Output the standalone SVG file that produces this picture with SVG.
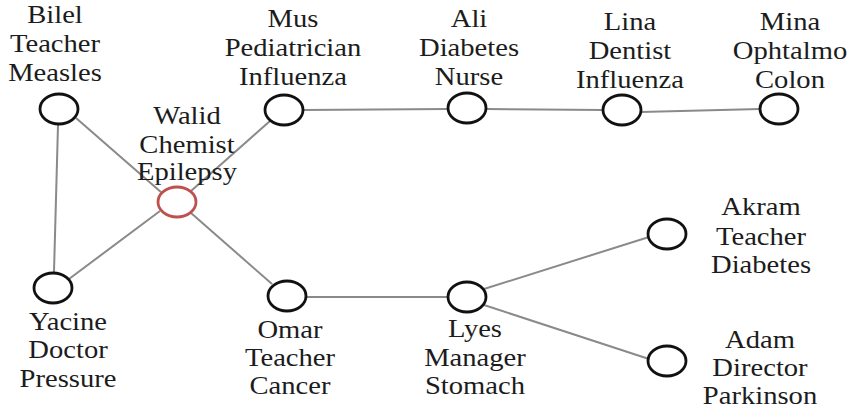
<svg xmlns="http://www.w3.org/2000/svg" width="854" height="413" viewBox="0 0 854 413">
  <style>
    .edge { stroke: #8a8a8a; stroke-width: 2; fill: none; }
    .node { fill: #ffffff; stroke: #111111; stroke-width: 2.8; }
    .node.hl { stroke: #c0504d; }
    text.lbl { font-family: "Liberation Serif", "DejaVu Serif", serif; font-size: 26px; fill: #1c1c1c; text-anchor: middle; }
  </style>
  <rect width="854" height="413" fill="#ffffff"/>

  <!-- connectors -->
  <g id="edges">
    <line class="edge" x1="58" y1="125" x2="54" y2="272"/>
    <line class="edge" x1="76" y1="118" x2="162" y2="193"/>
    <line class="edge" x1="69" y1="279" x2="160" y2="211"/>
    <line class="edge" x1="191" y1="191" x2="270" y2="121"/>
    <line class="edge" x1="191" y1="213" x2="272" y2="284"/>
    <line class="edge" x1="303" y1="110" x2="448" y2="109"/>
    <line class="edge" x1="486" y1="109" x2="603" y2="110"/>
    <line class="edge" x1="641" y1="112" x2="760" y2="109"/>
    <line class="edge" x1="306" y1="297" x2="448" y2="297"/>
    <line class="edge" x1="484" y1="289" x2="649" y2="237"/>
    <line class="edge" x1="484" y1="305" x2="649" y2="359"/>
  </g>

  <g id="bilel">
    <ellipse class="node" cx="59" cy="109" rx="19" ry="15"/>
    <text class="lbl" font-family="Liberation Serif, serif" transform="translate(55 0) scale(1.1 1)"><tspan x="0" y="23">Bilel</tspan><tspan x="0" y="52">Teacher</tspan><tspan x="0" y="81">Measles</tspan></text>
  </g>

  <g id="walid">
    <ellipse class="node hl" cx="177" cy="202" rx="19" ry="15"/>
    <text class="lbl" transform="translate(187 0) scale(1.1 1)"><tspan x="0" y="124">Walid</tspan><tspan x="0" y="153">Chemist</tspan><tspan x="0" y="180">Epilepsy</tspan></text>
  </g>

  <g id="yacine">
    <ellipse class="node" cx="53" cy="288" rx="19" ry="15"/>
    <text class="lbl" transform="translate(68 0) scale(1.1 1)"><tspan x="0" y="330">Yacine</tspan><tspan x="0" y="358">Doctor</tspan><tspan x="0" y="387">Pressure</tspan></text>
  </g>

  <g id="mus">
    <ellipse class="node" cx="284" cy="110" rx="19" ry="15"/>
    <text class="lbl" transform="translate(293 0) scale(1.1 1)"><tspan x="0" y="27">Mus</tspan><tspan x="0" y="56">Pediatrician</tspan><tspan x="0" y="85">Influenza</tspan></text>
  </g>

  <g id="ali">
    <ellipse class="node" cx="467" cy="108" rx="19" ry="15"/>
    <text class="lbl" transform="translate(469 0) scale(1.1 1)"><tspan x="0" y="27">Ali</tspan><tspan x="0" y="56">Diabetes</tspan><tspan x="0" y="85">Nurse</tspan></text>
  </g>

  <g id="lina">
    <ellipse class="node" cx="622" cy="110" rx="19" ry="15"/>
    <text class="lbl" transform="translate(630 0) scale(1.1 1)"><tspan x="0" y="30">Lina</tspan><tspan x="0" y="59">Dentist</tspan><tspan x="0" y="88">Influenza</tspan></text>
  </g>

  <g id="mina">
    <ellipse class="node" cx="779" cy="109" rx="19" ry="15"/>
    <text class="lbl" transform="translate(790 0) scale(1.1 1)"><tspan x="0" y="30">Mina</tspan><tspan x="0" y="59">Ophtalmo</tspan><tspan x="0" y="88">Colon</tspan></text>
  </g>

  <g id="omar">
    <ellipse class="node" cx="287" cy="296" rx="19" ry="15"/>
    <text class="lbl" transform="translate(290 0) scale(1.1 1)"><tspan x="0" y="338">Omar</tspan><tspan x="0" y="366">Teacher</tspan><tspan x="0" y="394">Cancer</tspan></text>
  </g>

  <g id="lyes">
    <ellipse class="node" cx="467" cy="297" rx="19" ry="15"/>
    <text class="lbl" transform="translate(475 0) scale(1.1 1)"><tspan x="0" y="337">Lyes</tspan><tspan x="0" y="366">Manager</tspan><tspan x="0" y="394">Stomach</tspan></text>
  </g>

  <g id="akram">
    <ellipse class="node" cx="667" cy="234" rx="19" ry="15"/>
    <text class="lbl" transform="translate(761 0) scale(1.1 1)"><tspan x="0" y="215">Akram</tspan><tspan x="0" y="245">Teacher</tspan><tspan x="0" y="273">Diabetes</tspan></text>
  </g>

  <g id="adam">
    <ellipse class="node" cx="667" cy="361" rx="19" ry="15"/>
    <text class="lbl" transform="translate(760 0) scale(1.1 1)"><tspan x="0" y="348">Adam</tspan><tspan x="0" y="376">Director</tspan><tspan x="0" y="404">Parkinson</tspan></text>
  </g>
</svg>
